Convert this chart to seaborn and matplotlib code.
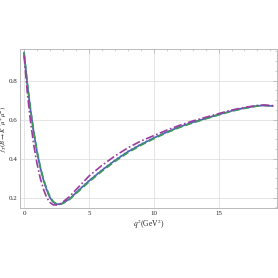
import numpy as np
import pandas as pd
import matplotlib
matplotlib.use("Agg")
import matplotlib.pyplot as plt
import seaborn as sns
from matplotlib.ticker import MultipleLocator

# q^2 points (GeV^2)
q2 = [0.0, 0.25, 0.5, 0.75, 1.0, 1.25, 1.5, 1.75, 2.0, 2.25, 2.5, 2.75, 3.0, 3.5,
      4.0, 4.5, 5.0, 6.0, 7.0, 8.0, 9.0, 10.0, 11.0, 12.0, 13.0, 14.0, 15.0,
      16.0, 17.0, 18.0, 18.5, 19.2]

f_green = [0.945, 0.79, 0.655, 0.54, 0.44, 0.36, 0.295, 0.245, 0.205, 0.18, 0.168,
           0.165, 0.17, 0.19, 0.22, 0.25, 0.28, 0.335, 0.385, 0.43, 0.468, 0.502,
           0.533, 0.56, 0.583, 0.604, 0.624, 0.643, 0.658, 0.670, 0.673, 0.670]
f_blue = [0.945, 0.785, 0.65, 0.535, 0.435, 0.355, 0.29, 0.24, 0.2, 0.177, 0.167,
          0.166, 0.172, 0.193, 0.224, 0.255, 0.285, 0.34, 0.39, 0.435, 0.472, 0.506,
          0.536, 0.563, 0.586, 0.606, 0.626, 0.645, 0.66, 0.671, 0.673, 0.670]
f_gray = [0.94, 0.78, 0.645, 0.53, 0.43, 0.35, 0.285, 0.235, 0.197, 0.175, 0.166,
          0.166, 0.173, 0.195, 0.227, 0.258, 0.288, 0.343, 0.393, 0.438, 0.475, 0.508,
          0.538, 0.565, 0.588, 0.608, 0.628, 0.647, 0.661, 0.672, 0.674, 0.671]
f_magenta = [0.93, 0.74, 0.59, 0.47, 0.375, 0.3, 0.243, 0.2, 0.175, 0.163, 0.162,
             0.167, 0.178, 0.205, 0.24, 0.275, 0.31, 0.365, 0.413, 0.455, 0.49, 0.518,
             0.546, 0.571, 0.593, 0.612, 0.631, 0.649, 0.663, 0.673, 0.675, 0.672]

models = ["gray", "blue", "green", "magenta"]
colors = {"gray": "#9fb4c0", "blue": "#4a64b8", "green": "#3d9a5a", "magenta": "#9b3c9e"}
dashes = {"gray": (1, 1.5), "blue": "", "green": (4, 2), "magenta": (5, 1.5, 1, 1.5)}

df = pd.concat([
    pd.DataFrame({"q2": q2, "f": vals, "model": name})
    for name, vals in zip(models, [f_gray, f_blue, f_green, f_magenta])
])

sns.set_style("white")
plt.rcParams["font.family"] = ["Liberation Serif", "DejaVu Serif"]
plt.rcParams["mathtext.fontset"] = "stix"

fig = plt.figure(figsize=(2.78, 2.78), dpi=100)
ax = fig.add_axes([0.072, 0.252, 0.924, 0.572])

sns.lineplot(data=df, x="q2", y="f", hue="model", style="model", palette=colors,
             dashes=dashes, hue_order=models, style_order=models,
             linewidth=1.2, legend=False, ax=ax)

ax.set_xlim(-0.31, 19.5)
ax.set_ylim(0.147, 0.963)
ax.xaxis.set_major_locator(MultipleLocator(5))
ax.xaxis.set_minor_locator(MultipleLocator(1))
ax.yaxis.set_major_locator(MultipleLocator(0.2))
ax.yaxis.set_minor_locator(MultipleLocator(0.05))
ax.set_xticks([0, 5, 10, 15])
ax.set_xticklabels(["0", "5", "10", "15"])
ax.grid(True, which="major", color="#e0e0e0", linewidth=0.6)
for s in ax.spines.values():
    s.set_color("#b0b0b0")
    s.set_linewidth(0.6)
ax.tick_params(which="both", direction="in", color="#b0b0b0", labelsize=5,
               top=True, right=True, pad=2)
ax.tick_params(which="major", length=3, width=0.5)
ax.tick_params(which="minor", length=1.5, width=0.4)

ax.set_xlabel(r"$q^2$(GeV$^2$)", fontsize=5.5, labelpad=1)
ax.set_ylabel(r"$f_T(B\to K^{*}\mu^{+}\mu^{-})$", fontsize=4.8)
ax.yaxis.set_label_coords(-0.045, 0.5)

fig.savefig("out.png", dpi=100, facecolor="white")
